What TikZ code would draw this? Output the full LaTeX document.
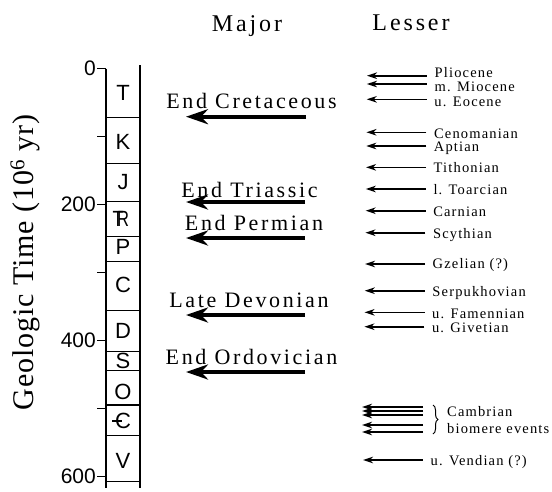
\documentclass[tikz,border=0pt]{standalone}
\usepackage{fontspec}
\setmainfont{Liberation Serif}
\newfontfamily\sansf{Liberation Sans}
\newfontfamily\trkA[LetterSpace=12]{Liberation Serif}
\newfontfamily\trkB[LetterSpace=8]{Liberation Serif}
\newfontfamily\trkC[LetterSpace=3]{Liberation Serif}
\usetikzlibrary{arrows.meta,decorations.pathreplacing}
\tikzset{
  colline/.style={line width=1.2pt},
  tickline/.style={line width=1.2pt},
  majarrow/.style={line width=4pt,-{Stealth[length=22pt,width=15pt,inset=7pt]}},
  lesarrow/.style={line width=1.6pt,-{Stealth[length=10pt,width=6.5pt,inset=3pt]}},
  ticklabel/.style={anchor=east,inner sep=0pt,font=\sansf\fontsize{21}{24}\selectfont},
  perlabel/.style={inner sep=0pt,font=\sansf\fontsize{22}{24}\selectfont},
  titlelabel/.style={anchor=base,inner sep=0pt,font=\trkA\fontsize{24}{28}\selectfont},
  majlabel/.style={anchor=base,inner sep=0pt,font=\trkA\fontsize{22}{26}\selectfont},
  leslabel/.style={anchor=base west,inner sep=0pt,font=\trkB\fontsize{14.5}{17}\selectfont},
}
\begin{document}
\begin{tikzpicture}[x=1pt,y=-1pt]
\useasboundingbox (0,0) rectangle (552,491);
% axis label
\node[rotate=90,anchor=base,inner sep=0pt,font=\trkC\fontsize{30}{34}\selectfont] (ylab) at (33.5,262.5) {Geologic Time (10\textsuperscript{6} yr)};
% column
\coordinate (cTL) at (106,68.5);
\coordinate (cBL) at (106,488);
\coordinate (cTR) at (140,65);
\coordinate (cBR) at (140,488);
\draw[colline] (cTL) -- (cBL);
\draw[colline] (cTR) -- (cBR);
\foreach \y in {117.3,163.3,201.7,236.7,261.7,310.7,351.7,370.7,405,435.7,481.7}{
  \draw[colline] (106,\y) -- (140,\y);
}
% ticks
\foreach \t in {0,100,...,600}{
  \pgfmathsetmacro\yy{68.5+0.68*\t}
  \draw[tickline] (97,\yy) -- (106,\yy);
}
\foreach \t in {0,200,400,600}{
  \pgfmathsetmacro\yy{68.5+0.68*\t}
  \node[ticklabel] (tk\t) at (96,\yy) {\t};
}
% period letters
\node[perlabel] (pT) at (123,93) {T};
\node[perlabel] (pK) at (123,142) {K};
\node[perlabel] (pJ) at (123,182.5) {J};
\node[perlabel] (pTr) at (123,219) {\makebox[0pt][l]{\hspace*{-0.2em}\scalebox{0.8}[1]{T}}\scalebox{0.75}[1]{R}};
\node[perlabel] (pP) at (123,247) {P};
\node[perlabel] (pC) at (123,285) {C};
\node[perlabel] (pD) at (123,331) {D};
\node[perlabel] (pS) at (123,361) {S};
\node[perlabel] (pO) at (123,392) {O};
\node[perlabel] (pCm) at (123,421) {\makebox[0pt][l]{\kern-0.12em\rule[0.32em]{0.45em}{0.08em}}C};
\node[perlabel] (pV) at (123,461) {V};
% titles
\node[titlelabel] (major) at (247,31) {Major};
\node[titlelabel] (lesser) at (411,30) {Lesser};
% major events
\foreach \n/\ay/\tx/\bx/\by/\txt in {
  1/116.7/306/251.5/108/End Cretaceous,
  2/202/305/249.5/197/End Triassic,
  3/238/305/254/230/End Permian,
  4/315/305/249/307/Late Devonian,
  5/372/305/251.5/364/End Ordovician}{
  \coordinate (M\n s) at (\tx,\ay);
  \coordinate (M\n t) at (186,\ay);
  \draw[majarrow] (M\n s) -- (M\n t);
  \node[majlabel] (M\n) at (\bx,\by) {\txt};
}
% lesser events
\foreach \n/\ay/\by/\txt in {
  1/75.7/77.7/Pliocene,
  2/84/91/m. Miocene,
  3/99.3/106.5/u. Eocene,
  4/132.3/138.3/Cenomanian,
  5/146/151.7/Aptian,
  6/167.3/172/Tithonian,
  7/189/194/l. Toarcian,
  8/210.7/216.5/Carnian,
  9/232.7/238/Scythian,
  10/264/268.5/Gzelian (?),
  11/290.7/296/Serpukhovian,
  12/312.3/318/u. Famennian,
  13/326.7/332.5/u. Givetian,
  14/460/465.5/u. Vendian (?)}{
  \pgfmathsetmacro\xs{427-0.0104*(\ay-75)}
  \pgfmathsetmacro\xt{\xs-60}
  \pgfmathsetmacro\xl{\xs+7.5}
  \coordinate (L\n s) at (\xs,\ay);
  \coordinate (L\n t) at (\xt,\ay);
  \draw[lesarrow] (L\n s) -- (L\n t);
  \node[leslabel] (L\n) at (\xl,\by) {\txt};
}
% Cambrian biomere events
\foreach \n/\ay in {1/407,2/411,3/415,4/425,5/432}{
  \coordinate (B\n s) at (423,\ay);
  \coordinate (B\n t) at (362,\ay);
  \draw[lesarrow] (B\n s) -- (B\n t);
}
\coordinate (brT) at (433,405);
\coordinate (brB) at (433,434);
\draw[line width=1pt,decorate,decoration={brace,amplitude=5pt}] (brT) -- (brB);
\node[leslabel] (cam1) at (447,416.7) {Cambrian};
\node[leslabel] (cam2) at (447,433.3) {biomere events};
\end{tikzpicture}
\end{document}
